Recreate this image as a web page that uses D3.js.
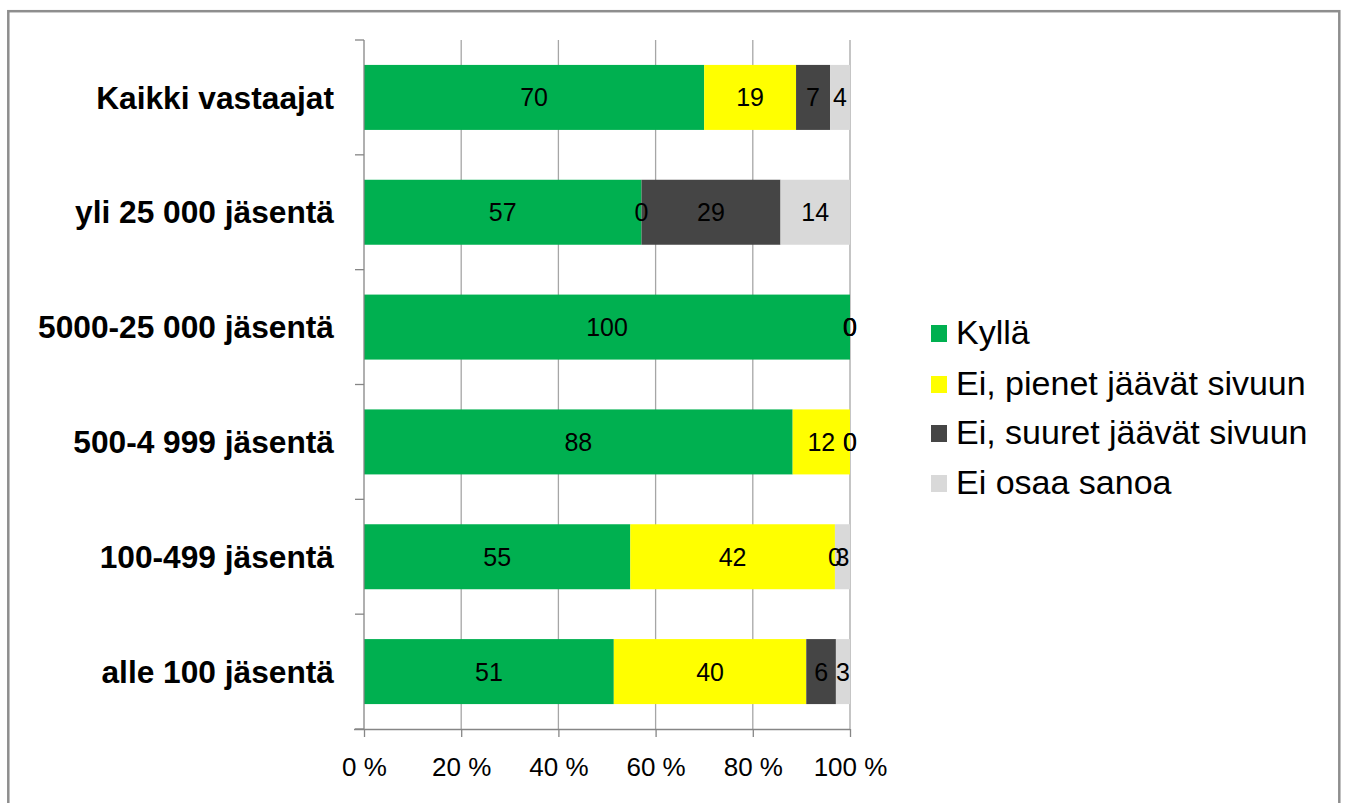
<!DOCTYPE html>
<html>
<head>
<meta charset="utf-8">
<script src="https://cdn.jsdelivr.net/npm/d3@7"></script>
<style>
  body { margin: 0; background: #fff; }
  svg { display: block; font-family: "Liberation Sans", Arial, sans-serif; }
</style>
</head>
<body>
<svg width="1345" height="803"></svg>
<script>
const categories = ["Kaikki vastaajat", "yli 25 000 jäsentä", "5000-25 000 jäsentä",
    "500-4 999 jäsentä", "100-499 jäsentä", "alle 100 jäsentä"];
const seriesNames = ["Kyllä", "Ei, pienet jäävät sivuun", "Ei, suuret jäävät sivuun", "Ei osaa sanoa"];
const kylla  = [70.0, 57.1, 100, 88.2, 54.8, 51.4];
const pienet = [18.9, 0,    0,   11.8, 42.1, 39.6];
const suuret = [7.0,  28.6, 0,   0,    0,    6.1];
const eiOsaa = [4.1,  14.3, 0,   0,    3.1,  2.9];
const xTicks = [0, 20, 40, 60, 80, 100];

const colors = ["#00b050", "#ffff00", "#454545", "#d9d9d9"];

const svg = d3.select("svg");
const plot = { left: 364, right: 850, top: 40, bottom: 729 };

// outer frame
svg.append("rect")
    .attr("x", 8.3).attr("y", 11.2)
    .attr("width", 1331).attr("height", 800)
    .attr("fill", "none")
    .attr("stroke", "#8e8e8e")
    .attr("stroke-width", 2.5);

const rows = categories.map((c, i) => ({
    cat: c, s0: kylla[i], s1: pienet[i], s2: suuret[i], s3: eiOsaa[i]
}));
const keys = ["s0", "s1", "s2", "s3"];
const stacked = d3.stack().keys(keys)(rows);

const x = d3.scaleLinear().domain([0, 100]).range([plot.left, plot.right]);
const y = d3.scaleBand().domain(categories)
    .range([plot.top, plot.bottom])
    .paddingInner(0.434).paddingOuter(0.217);

// gridlines
svg.append("g").selectAll("line")
    .data(xTicks.slice(1))
    .join("line")
    .attr("x1", d => x(d)).attr("x2", d => x(d))
    .attr("y1", plot.top).attr("y2", plot.bottom)
    .attr("stroke", "#a6a6a6")
    .attr("stroke-width", 1.3);

// bars
const layers = svg.append("g").selectAll("g")
    .data(stacked)
    .join("g")
    .attr("fill", (d, i) => colors[i]);

layers.selectAll("rect")
    .data(d => d)
    .join("rect")
    .attr("x", d => x(d[0]))
    .attr("y", d => y(d.data.cat))
    .attr("width", d => x(d[1]) - x(d[0]))
    .attr("height", y.bandwidth());

// value labels
const labels = svg.append("g")
    .attr("font-size", 25)
    .attr("text-anchor", "middle")
    .attr("fill", "#000");
stacked.forEach(layer => {
    labels.selectAll(null)
        .data(layer)
        .join("text")
        .attr("x", d => x((d[0] + d[1]) / 2))
        .attr("y", d => y(d.data.cat) + y.bandwidth() / 2 + 9)
        .text(d => Math.round(d[1] - d[0]));
});

// category axis (left)
const step = y.step();
const bounds = categories.map(c => y(c) - (step - y.bandwidth()) / 2).concat([plot.bottom]);
const left = svg.append("g").attr("stroke", "#868686").attr("stroke-width", 1.3);
left.append("line")
    .attr("x1", plot.left).attr("x2", plot.left)
    .attr("y1", plot.top).attr("y2", plot.bottom);
left.selectAll("line.tick")
    .data(bounds)
    .join("line")
    .attr("class", "tick")
    .attr("x1", plot.left - 9).attr("x2", plot.left)
    .attr("y1", d => d).attr("y2", d => d);

svg.append("g")
    .attr("font-size", 31.7)
    .attr("font-weight", "bold")
    .attr("text-anchor", "end")
    .selectAll("text")
    .data(categories)
    .join("text")
    .attr("x", 334)
    .attr("y", d => y(d) + y.bandwidth() / 2 + 11.2)
    .text(d => d);

// value axis (bottom)
const xAxis = svg.append("g")
    .attr("transform", `translate(0,${plot.bottom})`)
    .call(d3.axisBottom(x).tickValues(xTicks).tickFormat(d => d + " %")
        .tickSize(8).tickSizeOuter(0).tickPadding(21));
xAxis.select(".domain").attr("stroke", "#868686").attr("stroke-width", 1.3)
    .attr("d", `M${plot.left - 10},0.5H${plot.right}`);
xAxis.selectAll(".tick line").attr("stroke", "#868686").attr("stroke-width", 1.3);
xAxis.selectAll(".tick text")
    .attr("font-size", 26)
    .attr("font-family", "Liberation Sans, Arial, sans-serif")
    .attr("fill", "#000");

// legend
const legend = svg.append("g").attr("transform", "translate(931,0)");
const legendY = [344, 395, 444, 494];
seriesNames.forEach((name, i) => {
    legend.append("rect")
        .attr("x", 0).attr("y", legendY[i] - 19)
        .attr("width", 16).attr("height", 17)
        .attr("fill", colors[i]);
    legend.append("text")
        .attr("x", 25).attr("y", legendY[i])
        .attr("font-size", 34)
        .attr("fill", "#000")
        .text(name);
});
</script>
</body>
</html>
